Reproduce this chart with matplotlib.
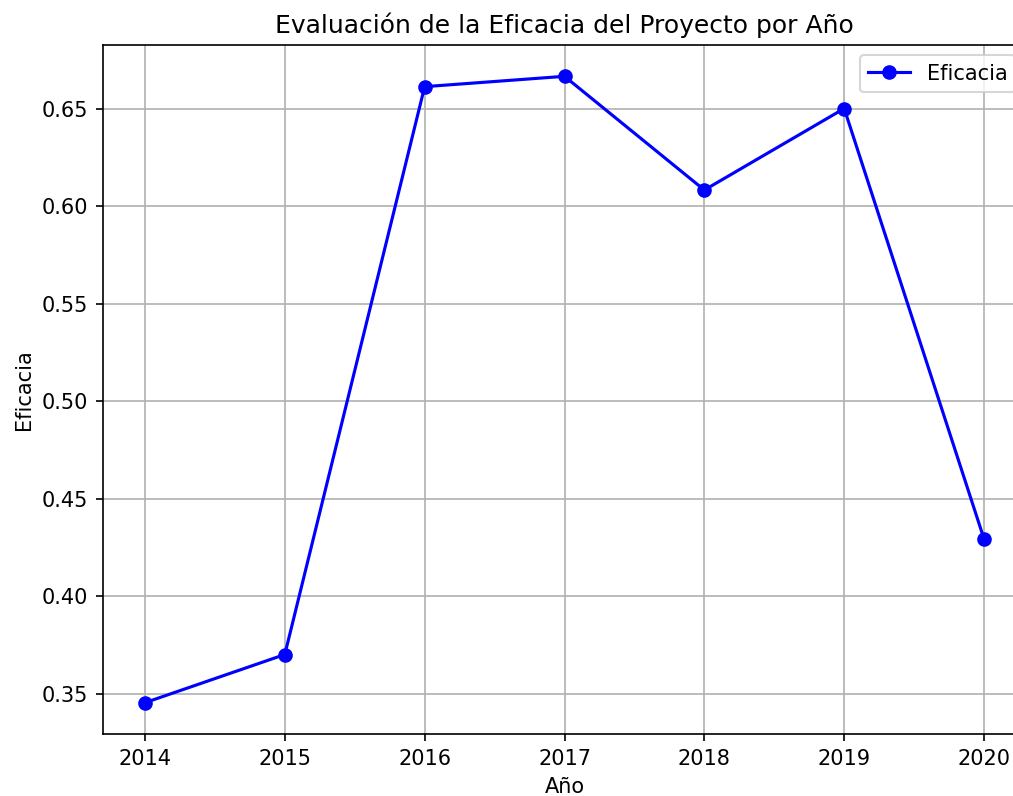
import matplotlib
matplotlib.use("Agg")
import matplotlib.pyplot as plt

years = [2014, 2015, 2016, 2017, 2018, 2019, 2020]
eficacia = [0.3454, 0.3701, 0.6612, 0.6665, 0.6082, 0.6500, 0.4293]

DPI = 150
fig = plt.figure(figsize=(1013/DPI, 796/DPI), dpi=DPI)
ax = fig.add_axes([103/1013, 62/796, 923/1013, 689/796])
ax.plot(years, eficacia, marker='o', color='blue', label='Eficacia')
ax.set_title('Evaluación de la Eficacia del Proyecto por Año')
ax.set_xlabel('Año')
ax.set_ylabel('Eficacia')
ax.set_xticks(years)
ax.grid(True)
ax.legend(loc='upper right')
fig.savefig('out.png', dpi=DPI)
